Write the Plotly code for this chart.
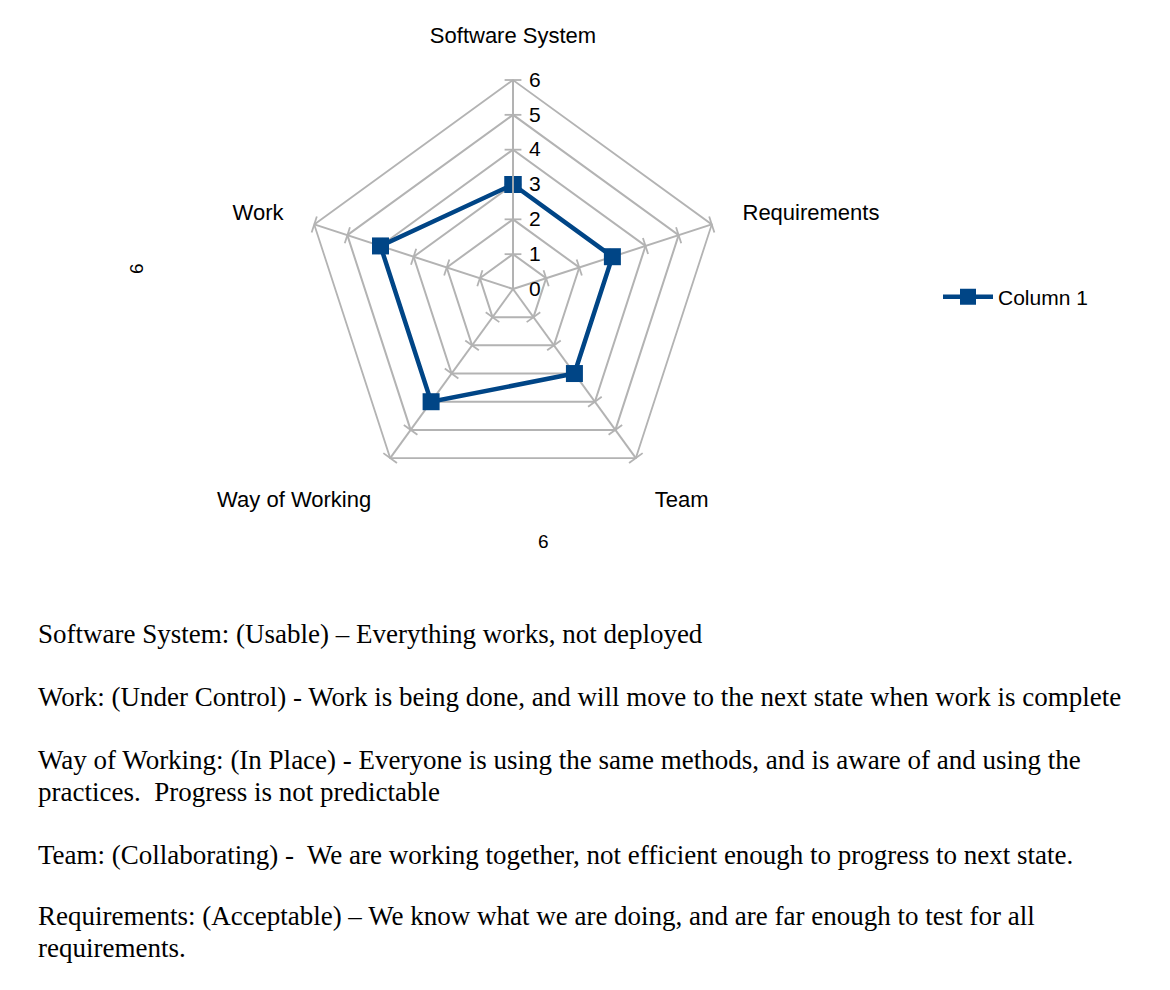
import plotly.graph_objects as go

categories = ["Software System", "Requirements", "Team", "Way of Working", "Work"]
values = [3, 3, 3, 4, 4]
series_name = "Column 1"
radial_ticks = [0, 1, 2, 3, 4, 5, 6]
axis_title_left = "6"
axis_title_bottom = "6"

notes = [
    "Software System: (Usable) – Everything works, not deployed",
    "Work: (Under Control) - Work is being done, and will move to the next state when work is complete",
    "Way of Working: (In Place) - Everyone is using the same methods, and is aware of and using the",
    "practices.  Progress is not predictable",
    "Team: (Collaborating) -  We are working together, not efficient enough to progress to next state.",
    "Requirements: (Acceptable) – We know what we are doing, and are far enough to test for all",
    "requirements.",
]
note_y = [634, 697, 760, 792, 855, 916, 948]

BLUE = "#004586"
GRAY = "#b3b3b3"
SANS = "Liberation Sans, Arial, sans-serif"
SERIF = "Liberation Serif, Times New Roman, serif"

fig = go.Figure()

# tick marks across each spoke
tick_theta, tick_r, tick_angle = [], [], []
for i, c in enumerate(categories):
    for r in radial_ticks:
        tick_theta.append(c)
        tick_r.append(r)
        tick_angle.append(i * 72)
fig.add_trace(go.Scatterpolar(
    r=tick_r, theta=tick_theta, mode="markers", showlegend=False, hoverinfo="skip",
    marker=dict(symbol="line-ew", size=12, angle=tick_angle,
                line=dict(color=GRAY, width=1.8), color=GRAY),
))

fig.add_trace(go.Scatterpolar(
    r=values + values[:1], theta=categories + categories[:1],
    mode="lines+markers", name=series_name,
    line=dict(color=BLUE, width=4.5),
    marker=dict(symbol="square", size=17, color=BLUE, line=dict(color=BLUE, width=0)),
))

W, H = 1170, 990
cx, cy, R = 513, 289, 209
fig.update_layout(
    width=W, height=H,
    margin=dict(l=0, r=0, t=0, b=0),
    paper_bgcolor="white", plot_bgcolor="white",
    font=dict(family=SANS, size=21, color="black"),
    showlegend=True,
    legend=dict(x=938 / W, y=1 - 297 / H, xanchor="left", yanchor="middle",
                font=dict(family=SANS, size=21, color="black"), bgcolor="rgba(0,0,0,0)",
                itemwidth=50),
    polar=dict(
        domain=dict(x=[(cx - R) / W, (cx + R) / W], y=[(H - cy - R) / H, (H - cy + R) / H]),
        bgcolor="white",
        gridshape="linear",
        radialaxis=dict(range=[0, 6], tickvals=radial_ticks, angle=90, tickangle=90,
                        showline=True, linecolor=GRAY, linewidth=1.8,
                        gridcolor=GRAY, gridwidth=1.8,
                        ticks="outside", ticklen=11, tickcolor="rgba(0,0,0,0)",
                        tickfont=dict(family=SANS, size=21, color="black"),
                        side="clockwise"),
        angularaxis=dict(rotation=90, direction="clockwise",
                         showline=True, linecolor=GRAY, linewidth=1.8,
                         gridcolor=GRAY, gridwidth=1.8,
                         ticks="outside", ticklen=27, tickcolor="rgba(0,0,0,0)",
                         tickfont=dict(family=SANS, size=22, color="black")),
    ),
)

fig.add_annotation(text=axis_title_left, x=124 / W, y=1 - 261 / H, xref="paper", yref="paper",
                   showarrow=False, textangle=-90, font=dict(family=SANS, size=19, color="black"))
fig.add_annotation(text=axis_title_bottom, x=543 / W, y=1 - 541 / H, xref="paper", yref="paper",
                   showarrow=False, font=dict(family=SANS, size=19, color="black"))

for t, yy in zip(notes, note_y):
    fig.add_annotation(text=t, x=36 / W, y=1 - yy / H, xref="paper", yref="paper",
                       xanchor="left", yanchor="middle", showarrow=False,
                       font=dict(family=SERIF, size=27, color="black"))

fig.write_html("out.html")
